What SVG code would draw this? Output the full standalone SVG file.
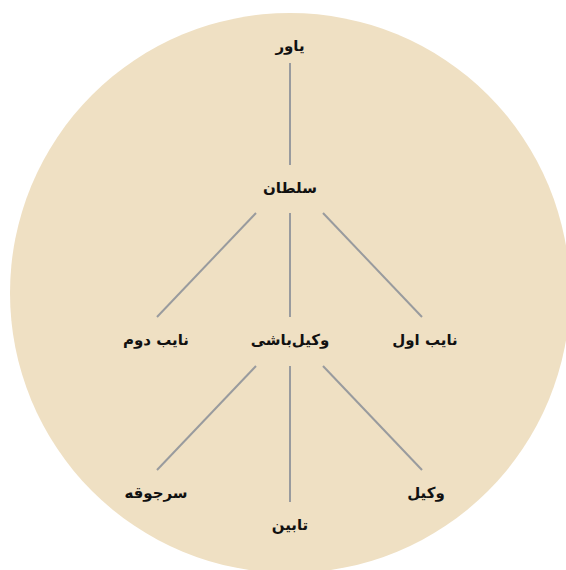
<svg xmlns="http://www.w3.org/2000/svg" width="566" height="570" viewBox="0 0 566 570">
<style>
.lbl{font-family:"DejaVu Sans","Noto Sans",sans-serif;font-weight:bold;font-size:15px;fill:#111;text-anchor:middle;dominant-baseline:central;direction:rtl}
.edge{stroke:#999b9e;stroke-width:2;fill:none}
</style>
<circle cx="290" cy="293" r="280" fill="#efe0c3"/>
<g id="connectors">
<line class="edge" x1="290" y1="63" x2="290" y2="165"/>
<line class="edge" x1="256" y1="213" x2="157" y2="317"/>
<line class="edge" x1="290" y1="213" x2="290" y2="317"/>
<line class="edge" x1="323" y1="213" x2="422" y2="317"/>
<line class="edge" x1="256" y1="366" x2="157" y2="470"/>
<line class="edge" x1="290" y1="366" x2="290" y2="502"/>
<line class="edge" x1="323" y1="366" x2="422" y2="470"/>
</g>
<g id="n-yavar"><text class="lbl" x="290" y="46">یاور</text></g>
<g id="n-soltan"><text class="lbl" x="290" y="188">سلطان</text></g>
<g id="n-nayeb-dovom"><text class="lbl" x="156" y="340">نایب دوم</text></g>
<g id="n-vakilbashi"><text class="lbl" x="290" y="340">وکیل‌باشی</text></g>
<g id="n-nayeb-aval"><text class="lbl" x="425" y="340">نایب اول</text></g>
<g id="n-sarjoghe"><text class="lbl" x="156" y="493">سرجوقه</text></g>
<g id="n-tabin"><text class="lbl" x="290" y="525">تابین</text></g>
<g id="n-vakil"><text class="lbl" x="426" y="493">وکیل</text></g>
</svg>
